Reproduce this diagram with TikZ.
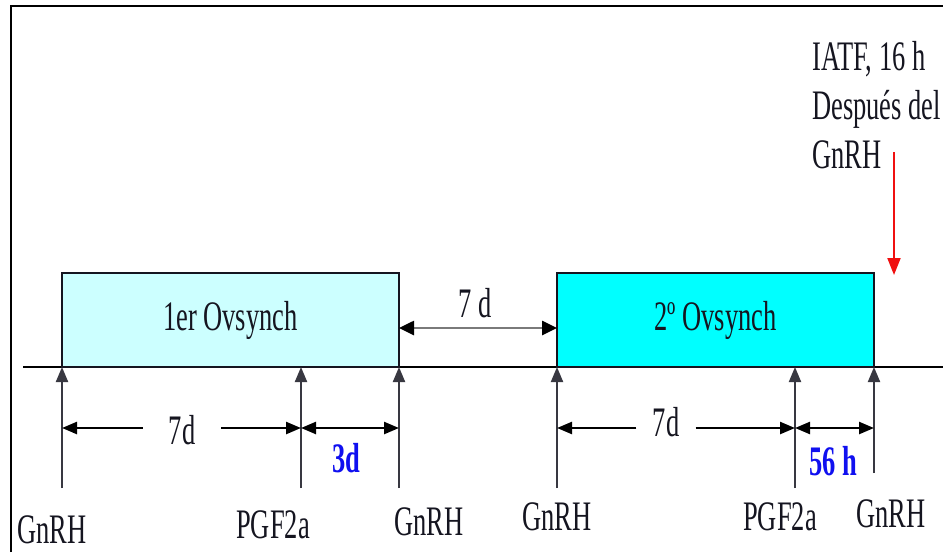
\documentclass[tikz,border=0pt]{standalone}
\usepackage{fontspec}
\setmainfont[FakeStretch=0.63]{Liberation Serif}
\usetikzlibrary{arrows.meta,positioning}
\definecolor{ovLight}{HTML}{CCFFFF}
\definecolor{ovCyan}{HTML}{00FFFF}
\definecolor{ovBlue}{HTML}{1010F0}
\definecolor{ovRed}{HTML}{F01010}
\definecolor{ovInk}{HTML}{151520}
\definecolor{ovGray}{HTML}{7A7A7A}

\begin{document}
\begin{tikzpicture}[x=1pt,y=-1pt,>={Triangle[length=15pt,width=12pt]},line join=miter]
\useasboundingbox (0,0) rectangle (943,552);
\fill[white] (0,0) rectangle (943,552);
\tikzset{big/.style={font=\fontsize{42}{49}\selectfont,text=ovInk,inner sep=0pt},
  ovbox/.style={draw=ovInk,line width=1.6pt,minimum width=337pt,minimum height=94pt,inner sep=0pt,big},
  tick/.style={draw=ovInk!85,line width=2pt,->},
  dim/.style={draw=black,line width=2.4pt},
  bluelbl/.style={big,text=ovBlue,font=\fontsize{42}{49}\selectfont\bfseries}}
% frame and time line
\draw[line width=1.6pt] (11,552) -- (11,6) -- (943,6);
\coordinate (lineL) at (23,367); \coordinate (lineR) at (943,367);
\draw[line width=2pt] (lineL) -- (lineR);
% the two protocols
\node[ovbox,fill=ovLight] (ovA) at (230.5,320) {1er Ovsynch};
\node[ovbox,fill=ovCyan,minimum width=317pt] (ovB) at (715.5,320) {2º Ovsynch};
% 7 d between them
\coordinate (gapL) at (399,328); \coordinate (gapR) at (557,328);
\draw[ovGray,line width=2.6pt,{Triangle[length=15pt,width=14pt,color=black]}-{Triangle[length=15pt,width=14pt,color=black]}] (gapL) -- (gapR);
\node[big,anchor=base] (gapTxt) at (475,317) {7 d};
% injections
\coordinate (tA) at (62,367);  \coordinate (bA) at (62,488);
\coordinate (tB) at (301,367); \coordinate (bB) at (301,488);
\coordinate (tC) at (399,367); \coordinate (bC) at (399,488);
\coordinate (tD) at (557,367); \coordinate (bD) at (557,488);
\coordinate (tE) at (795,367); \coordinate (bE) at (795,488);
\coordinate (tF) at (874,367); \coordinate (bF) at (874,473);
\draw[tick] (bA) -- (tA); \draw[tick] (bB) -- (tB); \draw[tick] (bC) -- (tC);
\draw[tick] (bD) -- (tD); \draw[tick] (bE) -- (tE); \draw[tick] (bF) -- (tF);
\node[big,anchor=base] (gnA) at (52,543) {GnRH};
\node[big,anchor=base] (pgA) at (273,538) {PGF2a};
\node[big,anchor=base] (gnB) at (429,535) {GnRH};
\node[big,anchor=base] (gnC) at (557,530) {GnRH};
\node[big,anchor=base] (pgB) at (780,530) {PGF2a};
\node[big,anchor=base] (gnD) at (891,527) {GnRH};
% intervals
\coordinate (dA) at (62,428);  \coordinate (dB) at (301,428); \coordinate (dC) at (399,428);
\coordinate (dD) at (557,428); \coordinate (dE) at (795,428); \coordinate (dF) at (874,428);
\node[big,minimum width=78pt] (sevenA) at (182,430) {7d};
\draw[dim,->] (sevenA.west |- dA) -- (dA);
\draw[dim,->] (sevenA.east |- dA) -- (dB);
\draw[dim,<->] (dB) -- (dC);
\node[bluelbl,anchor=base] (threeD) at (346,472) {3d};
\node[big,minimum width=59pt] (sevenB) at (666,422) {7d};
\draw[dim,->] (sevenB.west |- dD) -- (dD);
\draw[dim,->] (sevenB.east |- dD) -- (dE);
\draw[dim,<->] (dE) -- (dF);
\node[bluelbl,anchor=base] (fiftySix) at (833,475) {56 h};
% insemination
\node[big,anchor=north west,align=left] (iatf) at (812,41) {IATF, 16 h\\Después del\\GnRH};
\coordinate (redTop) at (894,152); \coordinate (redTip) at (894,275);
\draw[ovRed,line width=2pt,-{Triangle[length=17pt,width=13pt]}] (redTop) -- (redTip);
\end{tikzpicture}
\end{document}
